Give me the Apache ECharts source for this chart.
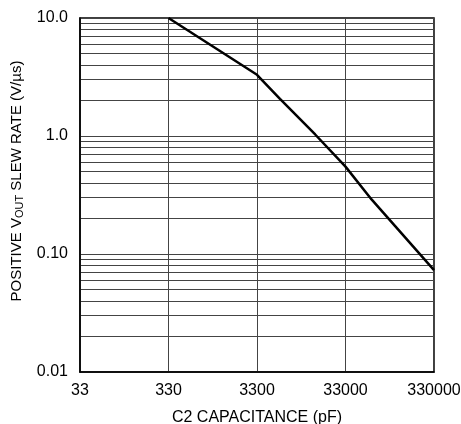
<!DOCTYPE html>
<html>
<head>
<meta charset="utf-8">
<script src="https://cdn.jsdelivr.net/npm/echarts@6/dist/echarts.min.js"></script>
<style>
  html, body { margin: 0; padding: 0; background: #fff; }
  #chart { width: 461px; height: 424px; }
</style>
</head>
<body>
<div id="chart"></div>
<script>
// capacitance (pF) vs positive Vout slew rate (V/us)
const capValues = [330, 3300, 6000, 15000, 33000, 65000, 330000];
const slewValues = [10, 3.3, 2.06, 1.03, 0.55, 0.29, 0.073];

const xTickValues = [33, 330, 3300, 33000, 330000];
const yLabelValues = [0.01, 0.1, 1, 10];
const yLabelText = ["0.01", "0.10", "1.0", "10.0"];
const yGridValues = [
  0.01, 0.02, 0.03, 0.04, 0.05, 0.06, 0.07, 0.08, 0.09,
  0.1, 0.2, 0.3, 0.4, 0.5, 0.6, 0.7, 0.8, 0.9,
  1, 2, 3, 4, 5, 6, 7, 8, 9, 10
];

const font = "'Liberation Sans', Arial, sans-serif";
const chart = echarts.init(document.getElementById("chart"));

const option = {
  animation: false,
  backgroundColor: "#fff",
  grid: {
    left: 80,
    right: 27,
    top: 18,
    bottom: 52,
    outerBoundsMode: "none",
    containLabel: false,
    show: true,
    borderColor: "#000",
    borderWidth: 1.5,
  },
  xAxis: {
    type: "log",
    logBase: 10,
    min: 33,
    max: 330000,
    name: "C2 CAPACITANCE (pF)",
    nameLocation: "middle",
    nameGap: 38,
    nameTextStyle: { color: "#000", fontSize: 16, fontFamily: font },
    axisLine: { show: true, lineStyle: { color: "#000", width: 1.5 } },
    axisTick: { show: false, customValues: xTickValues },
    axisLabel: {
      customValues: xTickValues,
      color: "#000",
      fontSize: 16,
      fontFamily: font,
      margin: 11,
      formatter: (v) => String(Math.round(v)),
    },
    splitLine: { show: true, lineStyle: { color: "#444", width: 1 } },
  },
  yAxis: {
    type: "log",
    logBase: 10,
    min: 0.01,
    max: 10,
    name: "{n|POSITIVE V}{s|OUT}{n| SLEW RATE (V/µs)}",
    nameLocation: "middle",
    nameRotate: 90,
    nameGap: 53,
    nameTextStyle: {
      color: "#000",
      fontFamily: font,
      padding: [0, 0, 0, 28],
      rich: {
        n: { fontSize: 15, fontFamily: font, color: "#000" },
        s: { fontSize: 11, fontFamily: font, color: "#000", padding: [7, 0, 0, 0] },
      },
    },
    axisLine: { show: true, lineStyle: { color: "#000", width: 1.5 } },
    axisTick: { show: false, customValues: yGridValues },
    axisLabel: {
      customValues: yLabelValues,
      color: "#000",
      fontSize: 16,
      fontFamily: font,
      margin: 12,
      formatter: (v) => {
        const i = yLabelValues.findIndex((t) => Math.abs(t - v) / t < 1e-6);
        return i >= 0 ? yLabelText[i] : "";
      },
    },
    splitLine: { show: true, lineStyle: { color: "#444", width: 1 } },
  },
  series: [
    {
      type: "line",
      data: capValues.map((c, i) => [c, slewValues[i]]),
      symbol: "none",
      lineStyle: { color: "#000", width: 2.5 },
      z: 5,
    },
  ],
};

chart.setOption(option);
</script>
</body>
</html>
